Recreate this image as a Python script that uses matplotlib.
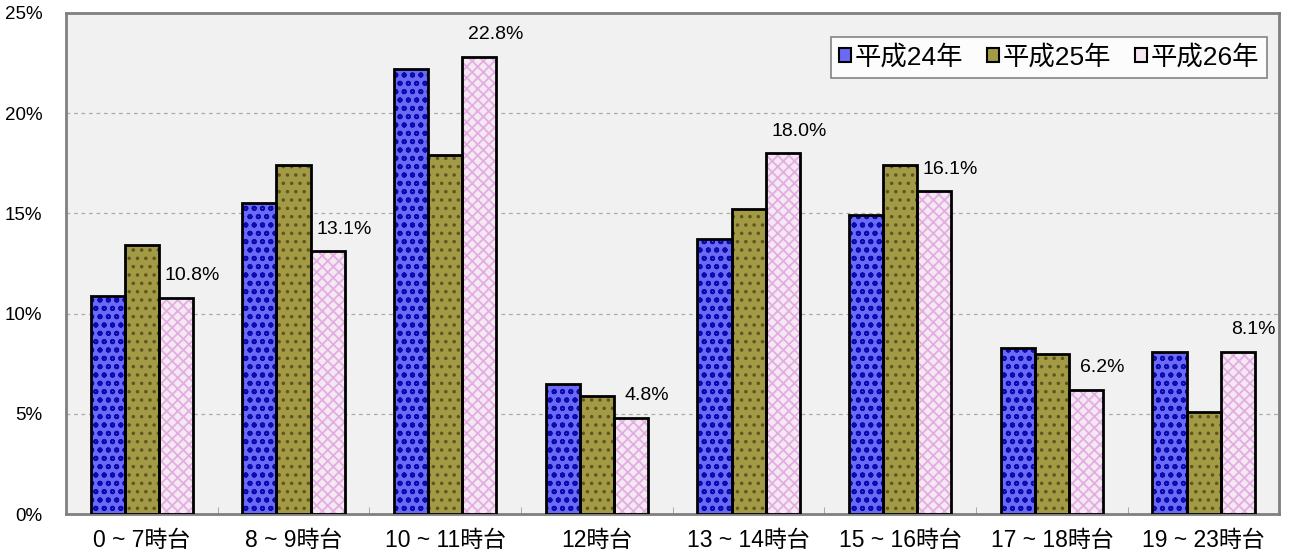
import numpy as np
import matplotlib.pyplot as plt
from matplotlib.patches import Patch

plt.rcParams['font.family'] = ['Liberation Sans', 'Noto Sans CJK JP']
plt.rcParams['hatch.linewidth'] = 1.3

# data (percent)
categories = ['0 ~ 7時台', '8 ~ 9時台', '10 ~ 11時台', '12時台',
              '13 ~ 14時台', '15 ~ 16時台', '17 ~ 18時台', '19 ~ 23時台']
series_names = ['平成24年', '平成25年', '平成26年']
h24 = [10.9, 15.5, 22.2, 6.5, 13.7, 14.9, 8.3, 8.1]
h25 = [13.4, 17.4, 17.9, 5.9, 15.2, 17.4, 8.0, 5.1]
h26 = [10.8, 13.1, 22.8, 4.8, 18.0, 16.1, 6.2, 8.1]
yticks = [0, 5, 10, 15, 20, 25]

fills = ['#6a6af5', '#a39a45', '#f5e8f3']
hatch_cols = ['#0a0ab0', '#5e5522', '#e2aee2']
hatches = ['oo', '..', 'xxx']

fig = plt.figure(figsize=(12.95, 5.6), dpi=100)
ax = fig.add_axes([0.051, 0.082, 0.937, 0.895])
ax.set_facecolor('#f1f1f1')

x = np.arange(len(categories))
w = 0.225
for i, vals in enumerate([h24, h25, h26]):
    pos = x + (i - 1) * w
    ax.bar(pos, vals, w, color=fills[i], edgecolor=hatch_cols[i],
           hatch=hatches[i], linewidth=0, zorder=2)
    ax.bar(pos, vals, w, facecolor='none', edgecolor='black',
           linewidth=2, zorder=3)

# value labels for 平成26年
for xi, v in zip(x + w, h26):
    ax.annotate(f'{v:.1f}%', (xi, v), xytext=(16, 22), textcoords='offset pixels',
                ha='center', va='center', fontsize=14, zorder=4)

ax.set_xlim(-0.5, len(categories) - 0.5)
ax.set_ylim(0, 25)
ax.set_yticks(yticks)
ax.set_yticklabels([f'{t}%' for t in yticks], fontsize=13.5)
ax.set_xticks(x)
ax.set_xticklabels(categories, fontsize=16.5)
ax.set_xticks(np.arange(len(categories) + 1) - 0.5, minor=True)
ax.tick_params(axis='x', which='major', length=0, pad=11)
ax.tick_params(axis='x', which='minor', direction='in', length=5, color='#999999')
ax.tick_params(axis='y', length=0, pad=17)

for t in yticks[1:-1]:
    ax.axhline(t, color='#aaaaaa', linestyle=(0, (3, 3)), linewidth=0.9, zorder=1)

for s in ax.spines.values():
    s.set_color('#808080')
    s.set_linewidth(2)

handles = [Patch(facecolor=fills[i], edgecolor='black', linewidth=1.5)
           for i in range(3)]
leg = ax.legend(handles, series_names, loc='upper right', bbox_to_anchor=(0.99, 0.952),
                ncol=3, fontsize=19, frameon=True, fancybox=False,
                handlelength=0.45, handleheight=0.45, handletextpad=0.15,
                columnspacing=0.9, borderpad=0.3, borderaxespad=0)
leg.get_frame().set_edgecolor('#666666')
leg.get_frame().set_linewidth(1.2)

fig.savefig('out.png', dpi=100)
